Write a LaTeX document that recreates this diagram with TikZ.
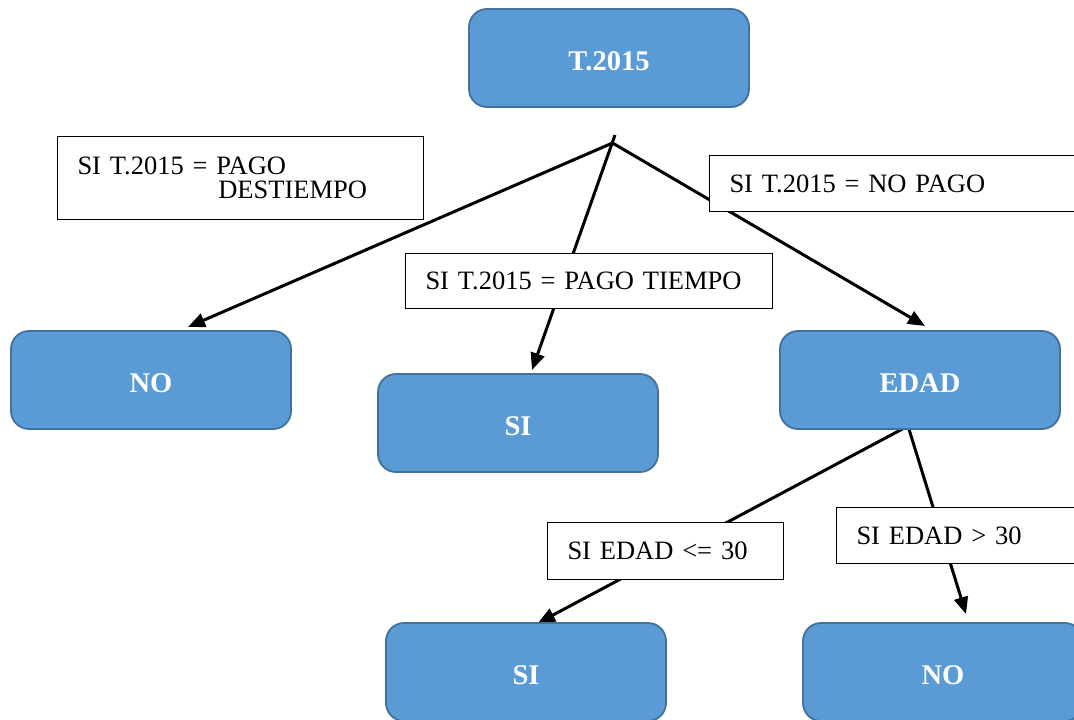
\documentclass[tikz,border=0pt]{standalone}
\usepackage{fontspec}
\setmainfont{Liberation Serif}
\usetikzlibrary{arrows.meta,backgrounds}
\definecolor{boxfill}{HTML}{5B9BD5}
\definecolor{boxline}{HTML}{41719C}
\begin{document}
\begin{tikzpicture}[x=1pt,y=-1pt,
  outcome/.style={draw=boxline, fill=boxfill, line width=1.8pt, rounded corners=18pt,
    minimum width=280pt, minimum height=98pt, text=white, text height=25pt, text depth=0pt,
    font=\fontsize{28.5}{30}\selectfont\bfseries},
  cond/.style={draw=black, fill=white, line width=1pt, inner xsep=20pt, inner ysep=0pt,
    align=left, anchor=north west, font=\fontsize{26.5}{24}\selectfont},
  link/.style={line width=3pt},
  arrow/.style={link, -{Triangle[length=17pt,width=14pt]}}
]
\useasboundingbox (0,0) rectangle (1074,720);
\clip (0,0) rectangle (1074,720);

% decision and outcome boxes
\node[outcome] (root) at (609,58)  {T.2015};
\node[outcome] (no1)  at (151,380) {NO};
\node[outcome] (si1)  at (518,423) {SI};
\node[outcome] (edad) at (920,380) {EDAD};
\node[outcome] (si2)  at (526,672) {SI};
\node[outcome] (no2)  at (943,672) {NO};

% condition labels
\node[cond, text width=326pt, minimum height=83pt] (cLate) at (57,136)
  {SI T.2015 = PAGO\\\phantom{SI T.2015 = }\hspace{2pt}DESTIEMPO};
\node[cond, text width=327pt, minimum height=56pt] (cNone) at (709,155) {SI T.2015 = NO PAGO};
\node[cond, text width=327pt, minimum height=55pt] (cTime) at (405,253) {SI T.2015 = PAGO TIEMPO};
\node[cond, text width=196pt, minimum height=57pt] (cLow)  at (547,522) {SI EDAD <= 30};
\node[cond, text width=220pt, minimum height=56pt] (cHigh) at (836,507) {SI EDAD > 30};

% branch points and arrow ends
\coordinate (j0) at (612.5,143);
\coordinate (t0) at (615,135);
\coordinate (j1) at (908,426);
\coordinate (tNo1)  at (188,327);
\coordinate (tSi1)  at (532,370);
\coordinate (tEdad) at (925,326);
\coordinate (tSi2)  at (538,623);
\coordinate (tNo2)  at (966,614);

\begin{scope}[on background layer]
  \draw[arrow] (j0) -- (tNo1);
  \draw[arrow] (t0) -- (tSi1);
  \draw[arrow] (j0) -- (tEdad);
  \draw[arrow] (j1) -- (tSi2);
  \draw[arrow] (j1) -- (tNo2);
\end{scope}
\end{tikzpicture}
\end{document}
